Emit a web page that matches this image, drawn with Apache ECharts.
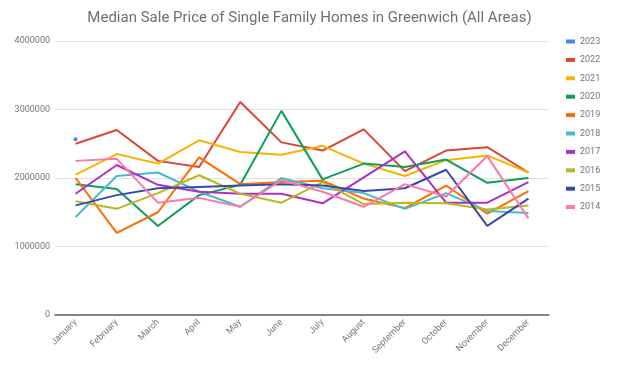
<!DOCTYPE html>
<html>
<head>
<meta charset="utf-8">
<script src="https://cdn.jsdelivr.net/npm/echarts@6/dist/echarts.min.js"></script>
<style>
	html, body { margin: 0; padding: 0; background: #fff; }
	#chart { width: 619px; height: 375px; }
</style>
</head>
<body>
<div id="chart"></div>
<script>
var months = [ "January", "February", "March", "April", "May", "June", "July",
		"August", "September", "October", "November", "December" ];
var years = [ "2023", "2022", "2021", "2020", "2019", "2018", "2017", "2016", "2015", "2014" ];
var colors = [ '#4285f4', '#db4437', '#f4b400', '#0f9d58', '#ff6d01', '#46bdc6',
		'#ab30c4', '#b8b820', '#3949ab', '#ff77a9' ];

var y2023 = [ 2565000, null, null, null, null, null, null, null, null, null, null, null ];
var y2022 = [ 2500000, 2700000, 2250000, 2160000, 3110000, 2520000, 2400000, 2710000, 2100000, 2400000, 2450000, 2080000 ];
var y2021 = [ 2050000, 2350000, 2210000, 2550000, 2380000, 2340000, 2470000, 2210000, 2030000, 2260000, 2330000, 2080000 ];
var y2020 = [ 1910000, 1840000, 1300000, 1750000, 1900000, 2980000, 1980000, 2210000, 2160000, 2270000, 1930000, 2000000 ];
var y2019 = [ 2000000, 1200000, 1500000, 2300000, 1910000, 1940000, 1960000, 1700000, 1560000, 1890000, 1480000, 1810000 ];
var y2018 = [ 1430000, 2030000, 2080000, 1800000, 1580000, 2000000, 1850000, 1780000, 1550000, 1780000, 1520000, 1490000 ];
var y2017 = [ 1770000, 2190000, 1900000, 1800000, 1770000, 1770000, 1630000, 2010000, 2390000, 1640000, 1640000, 1940000 ];
var y2016 = [ 1660000, 1550000, 1780000, 2040000, 1770000, 1640000, 1940000, 1620000, 1640000, 1630000, 1540000, 1600000 ];
var y2015 = [ 1600000, 1750000, 1850000, 1870000, 1890000, 1910000, 1890000, 1810000, 1850000, 2120000, 1300000, 1700000 ];
var y2014 = [ 2250000, 2280000, 1640000, 1710000, 1580000, 1970000, 1800000, 1580000, 1910000, 1730000, 2320000, 1410000 ];
var values = [ y2023, y2022, y2021, y2020, y2019, y2018, y2017, y2016, y2015, y2014 ];

var yTicks = [ 0, 1000000, 2000000, 3000000, 4000000 ];

var chart = echarts.init(document.getElementById('chart'));

var series = years.map(function(name, i) {
	return {
		name : name,
		type : 'line',
		data : values[i],
		symbol : 'circle',
		symbolSize : i == 0 ? 4 : 0,
		showSymbol : i == 0,
		connectNulls : false,
		lineStyle : {
			width : 2,
			color : colors[i]
		},
		itemStyle : {
			color : colors[i]
		},
		emphasis : { disabled : true },
		animation : false
	};
});

var option = {
	textStyle : { fontFamily : 'Roboto' },
	title : {
		text : 'Median Sale Price of Single Family Homes in Greenwich (All Areas)',
		left : 'center',
		top : 6,
		textStyle : {
			fontFamily : 'Roboto',
			fontSize : 15,
			fontWeight : 'normal',
			color : '#6f6f6f'
		}
	},
	legend : {
		orient : 'vertical',
		left : 561,
		top : 32,
		icon : 'rect',
		itemWidth : 9,
		itemHeight : 4,
		itemGap : 9.4,
		data : years,
		textStyle : {
			fontSize : 9,
			color : '#757575',
			padding : [ 0, 0, 0, 0 ]
		}
	},
	grid : {
		left : 55,
		right : 70,
		top : 41,
		bottom : 60,
		containLabel : false
	},
	xAxis : {
		type : 'category',
		data : months,
		boundaryGap : true,
		axisLine : {
			lineStyle : { color : '#616161', width : 1.5 }
		},
		axisTick : { show : false },
		axisLabel : {
			rotate : 45,
			fontSize : 9,
			color : '#757575',
			margin : 6,
			interval : 0
		}
	},
	yAxis : {
		type : 'value',
		min : yTicks[0],
		max : yTicks[yTicks.length - 1],
		interval : 1000000,
		axisLine : { show : false },
		axisTick : { show : false },
		axisLabel : {
			fontSize : 9,
			color : '#757575',
			margin : 5,
			formatter : function(v) {
				return String(v);
			}
		},
		splitLine : {
			lineStyle : { color : '#e0e0e0', width : 1 }
		}
	},
	series : series
};
chart.setOption(option);
</script>
</body>
</html>
